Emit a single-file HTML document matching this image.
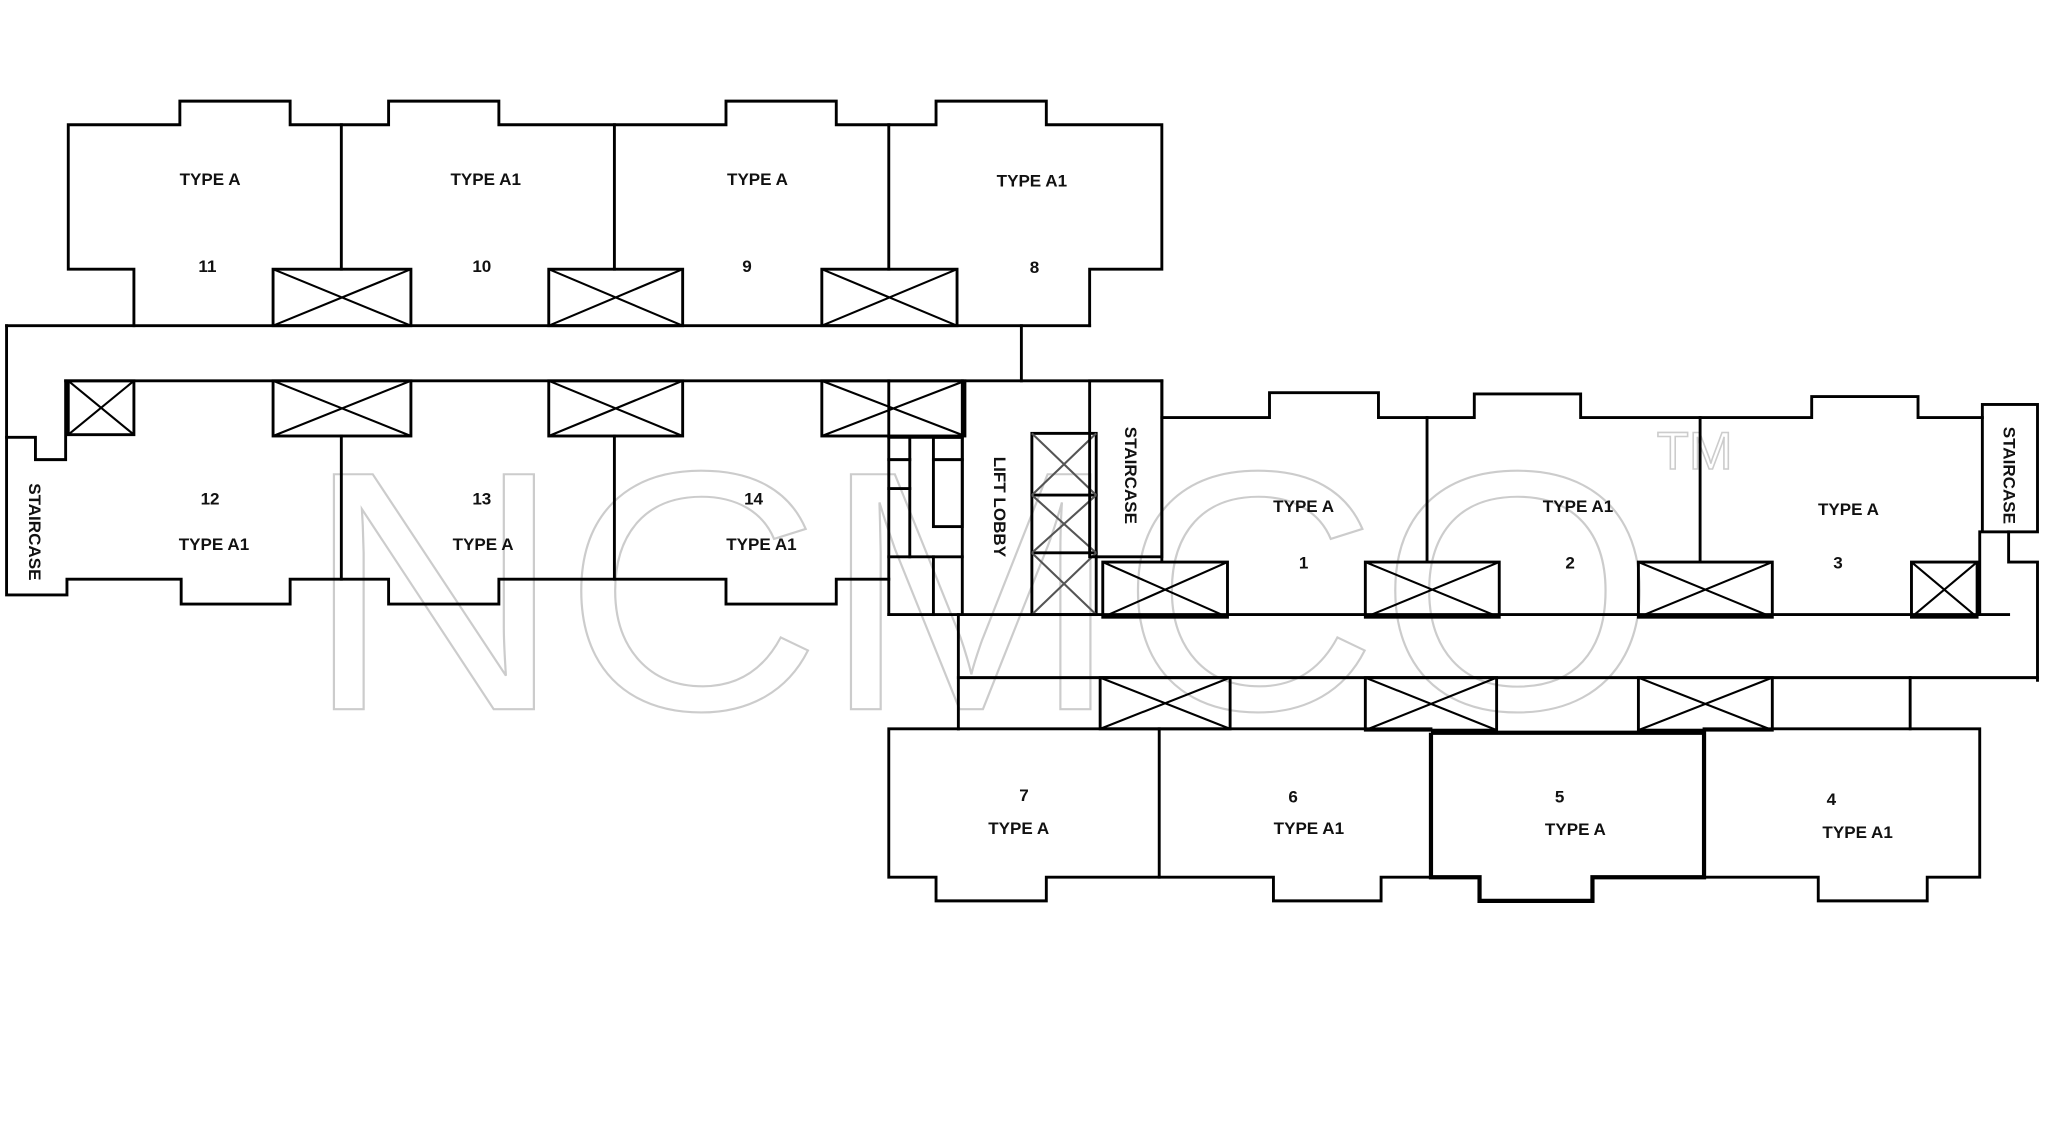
<!DOCTYPE html>
<html><head><meta charset="utf-8"><style>
html,body{margin:0;padding:0;background:#fff;}
svg{display:block;}
.w{stroke:#000;stroke-width:2.2;fill:none;stroke-linecap:square;}
.b{stroke:#000;stroke-width:3.2;fill:none;}
.x{stroke:#000;stroke-width:1.6;fill:none;}
.t{font-family:"Liberation Sans",sans-serif;font-weight:bold;font-size:13px;fill:#111;text-anchor:middle;}
.wm{font-family:"Liberation Sans",sans-serif;font-size:260px;fill:none;stroke:#ccc;stroke-width:1.6;}
</style></head><body>
<svg width="2048" height="1132" viewBox="0 0 1560 862" preserveAspectRatio="none">
<!-- watermark -->
<text class="wm" x="232" y="540" textLength="1030" lengthAdjust="spacingAndGlyphs">NCMCO</text>
<text x="1262" y="357" style="font-family:'Liberation Sans',sans-serif;font-size:40px;fill:none;stroke:#ccc;stroke-width:1.2">TM</text>

<!-- UPPER BLOCK top row -->
<polyline class="w" points="102,248 102,205 52,205 52,95 137,95 137,77 221,77 221,95 296,95 296,77 380,77 380,95 553,95 553,77 637,77 637,95 713,95 713,77 797,77 797,95 885,95 885,205 830,205 830,248"/>
<line class="w" x1="260" y1="95" x2="260" y2="205"/>
<line class="w" x1="468" y1="95" x2="468" y2="205"/>
<line class="w" x1="677" y1="95" x2="677" y2="205"/>
<!-- corridor -->
<line class="w" x1="5" y1="248" x2="830" y2="248"/>
<line class="w" x1="778" y1="248" x2="778" y2="290"/>
<line class="w" x1="5" y1="248" x2="5" y2="333"/>
<line class="w" x1="50" y1="290" x2="885" y2="290"/>
<polyline class="w" points="50,290 50,350 27,350 27,333 5,333 5,453 51,453 51,441 138,441 138,460 221,460 221,441 296,441 296,460 380,460 380,441 553,441 553,460 637,460 637,441 677,441"/>
<line class="w" x1="260" y1="332" x2="260" y2="441"/>
<line class="w" x1="468" y1="332" x2="468" y2="441"/>
<line class="w" x1="677" y1="290" x2="677" y2="468"/>

<!-- X boxes upper -->
<g class="x">
<rect x="208" y="205" width="105" height="43"/><path d="M208,205L313,248M313,205L208,248"/>
<rect x="418" y="205" width="102" height="43"/><path d="M418,205L520,248M520,205L418,248"/>
<rect x="626" y="205" width="103" height="43"/><path d="M626,205L729,248M729,205L626,248"/>
<rect x="52" y="290" width="50" height="41"/><path d="M52,290L102,331M102,290L52,331"/>
<rect x="208" y="290" width="105" height="42"/><path d="M208,290L313,332M313,290L208,332"/>
<rect x="418" y="290" width="102" height="42"/><path d="M418,290L520,332M520,290L418,332"/>
<rect x="626" y="290" width="109" height="42"/><path d="M626,290L735,332M735,290L626,332"/>
</g>
<g class="w">
<rect x="208" y="205" width="105" height="43"/><rect x="418" y="205" width="102" height="43"/><rect x="626" y="205" width="103" height="43"/>
<rect x="52" y="290" width="50" height="41"/><rect x="208" y="290" width="105" height="42"/><rect x="418" y="290" width="102" height="42"/><rect x="626" y="290" width="109" height="42"/>
</g>

<!-- lift core -->
<line class="w" x1="733" y1="290" x2="733" y2="468"/>
<polyline class="w" points="677,333 733,333"/>
<line class="w" x1="693" y1="333" x2="693" y2="424"/>
<rect class="w" x="711" y="333" width="22" height="68"/>
<line class="w" x1="711" y1="350" x2="733" y2="350"/>
<line class="w" x1="677" y1="350" x2="693" y2="350"/>
<line class="w" x1="677" y1="372" x2="693" y2="372"/>
<line class="w" x1="677" y1="424" x2="733" y2="424"/>
<line class="w" x1="711" y1="424" x2="711" y2="468"/>
<rect class="w" x="786" y="330" width="49" height="138"/>
<line class="w" x1="786" y1="377" x2="835" y2="377"/>
<line class="w" x1="786" y1="421" x2="835" y2="421"/>
<g class="x" style="stroke:#555">
<path d="M786,330L835,377M835,330L786,377M786,377L835,421M835,377L786,421M786,421L835,468M835,421L786,468"/>
</g>
<rect class="w" x="830" y="290" width="55" height="134"/>
<line class="w" x1="677" y1="468" x2="1530" y2="468"/>

<!-- RIGHT BLOCK top row -->
<polyline class="w" points="885,318 967,318 967,299 1050,299 1050,318 1123,318 1123,300 1204,300 1204,318 1380,318 1380,302 1461,302 1461,318 1510,318"/>
<rect class="w" x="1510" y="308" width="42" height="97"/>
<polyline class="w" points="1530,405 1530,428 1552,428 1552,518"/>
<line class="w" x1="885" y1="290" x2="885" y2="428"/>
<line class="w" x1="1087" y1="318" x2="1087" y2="428"/>
<line class="w" x1="1295" y1="318" x2="1295" y2="428"/>
<line class="w" x1="1508" y1="405" x2="1508" y2="468"/>
<g class="x">
<rect x="840" y="428" width="95" height="42"/><path d="M840,428L935,470M935,428L840,470"/>
<rect x="1040" y="428" width="102" height="42"/><path d="M1040,428L1142,470M1142,428L1040,470"/>
<rect x="1248" y="428" width="102" height="42"/><path d="M1248,428L1350,470M1350,428L1248,470"/>
<rect x="1456" y="428" width="50" height="42"/><path d="M1456,428L1506,470M1506,428L1456,470"/>
</g>
<g class="w">
<rect x="840" y="428" width="95" height="42"/><rect x="1040" y="428" width="102" height="42"/><rect x="1248" y="428" width="102" height="42"/><rect x="1456" y="428" width="50" height="42"/>
</g>
<!-- lower corridor -->
<line class="w" x1="730" y1="468" x2="730" y2="555"/>
<line class="w" x1="730" y1="516" x2="1552" y2="516"/>
<polyline class="w" points="730,555 677,555 677,668 713,668 713,686 797,686 797,668 970,668 970,686 1052,686 1052,668 1090,668"/>
<polyline class="w" points="1298,668 1385,668 1385,686 1468,686 1468,668 1508,668 1508,555 1455,555 1455,516"/>
<line class="w" x1="730" y1="555" x2="1090" y2="555"/>
<line class="w" x1="1298" y1="555" x2="1455" y2="555"/>
<line class="w" x1="883" y1="555" x2="883" y2="668"/>
<!-- unit 5 bold -->
<polyline class="b" points="1090,558 1090,668 1127,668 1127,686 1213,686 1213,668 1298,668 1298,558 1090,558"/>
<g class="x">
<rect x="838" y="516" width="99" height="39"/><path d="M838,516L937,555M937,516L838,555"/>
<rect x="1040" y="516" width="100" height="40"/><path d="M1040,516L1140,556M1140,516L1040,556"/>
<rect x="1248" y="516" width="102" height="40"/><path d="M1248,516L1350,556M1350,516L1248,556"/>
</g>
<g class="w">
<rect x="838" y="516" width="99" height="39"/><rect x="1040" y="516" width="100" height="40"/><rect x="1248" y="516" width="102" height="40"/>
</g>

<!-- labels -->
<g class="t">
<text x="160" y="141">TYPE A</text><text x="370" y="141">TYPE A1</text><text x="577" y="141">TYPE A</text><text x="786" y="142">TYPE A1</text>
<text x="158" y="207">11</text><text x="367" y="207">10</text><text x="569" y="207">9</text><text x="788" y="208">8</text>
<text x="160" y="384">12</text><text x="367" y="384">13</text><text x="574" y="384">14</text>
<text x="163" y="419">TYPE A1</text><text x="368" y="419">TYPE A</text><text x="580" y="419">TYPE A1</text>
<text x="993" y="390">TYPE A</text><text x="1202" y="390">TYPE A1</text><text x="1408" y="392">TYPE A</text>
<text x="993" y="433">1</text><text x="1196" y="433">2</text><text x="1400" y="433">3</text>
<text x="780" y="610">7</text><text x="985" y="611">6</text><text x="1188" y="611">5</text><text x="1395" y="613">4</text>
<text x="776" y="635">TYPE A</text><text x="997" y="635">TYPE A1</text><text x="1200" y="636">TYPE A</text><text x="1415" y="638">TYPE A1</text>
<text transform="translate(757,386) rotate(90)">LIFT LOBBY</text>
<text transform="translate(857,362) rotate(90)">STAIRCASE</text>
<text transform="translate(1526,362) rotate(90)">STAIRCASE</text>
<text transform="translate(22,405) rotate(90)">STAIRCASE</text>
</g>
</svg>
</body></html>
